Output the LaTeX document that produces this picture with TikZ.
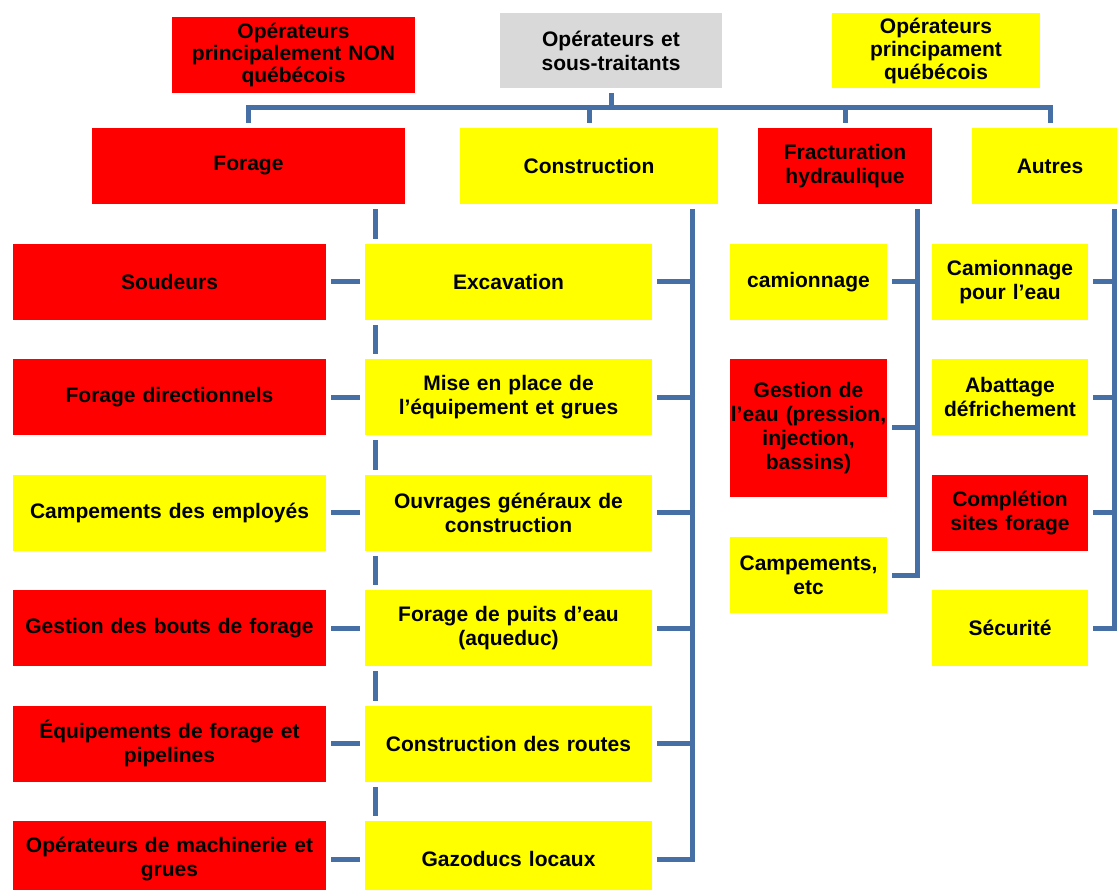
\documentclass[tikz,border=0pt]{standalone}
\usepackage{fontspec}
\setmainfont{Liberation Sans}
\usepackage{xcolor}
\usetikzlibrary{positioning}
\usetikzlibrary{calc}
\usetikzlibrary{backgrounds}

\definecolor{linkblue}{RGB}{70,111,165}
\definecolor{cellred}{RGB}{255,0,0}
\definecolor{cellyellow}{RGB}{255,255,0}
\definecolor{cellgray}{RGB}{217,217,217}

\begin{document}
\begin{tikzpicture}[x=1pt,y=-1pt,
                    base node/.style={rectangle,inner sep=0pt,outer sep=0pt,align=center,
                      font=\fontsize{21}{24}\selectfont\bfseries,preaction={draw=white,line width=10pt}},
                    red node/.style={base node,fill=cellred},
                    yellow node/.style={base node,fill=cellyellow},
                    gray node/.style={base node,fill=cellgray},
                    box size/.style 2 args={minimum width=#1,text width=#1,minimum height=#2},
                    link/.style={draw=linkblue,line width=5pt}]
\useasboundingbox (0,0) rectangle (1117,890);

\node[red node,box size={243pt}{76pt},font=\fontsize{21}{22}\selectfont\bfseries] (nonqc) at (293.5,55) {Opérateurs\\principalement NON\\québécois};
\node[gray node,box size={222pt}{75pt}] (ops) at (611,50.5) {Opérateurs et\\sous-traitants};
\node[yellow node,box size={208pt}{75pt},font=\fontsize{21}{23}\selectfont\bfseries] (qc) at (936,50.5) {Opérateurs\\principament\\québécois};

\node[red node,box size={313pt}{76pt}] (forage) at (248.5,166) {Forage};
\node[yellow node,box size={258pt}{76pt}] (constr) [right=55pt of forage] {Construction};
\node[red node,box size={174pt}{76pt}] (frac) [right=40pt of constr] {Fracturation\\hydraulique};
\node[yellow node,box size={156pt}{76pt}] (autres) [right=40pt of frac] {Autres};

\node[red node,box size={313pt}{76pt}] (soud) at (169.5,282) {Soudeurs};
\node[red node,box size={313pt}{76pt}] (fdir) [below=39.4pt of soud] {Forage directionnels};
\node[yellow node,box size={313pt}{76pt}] (camp) [below=39.4pt of fdir] {Campements des employés};
\node[red node,box size={313pt}{76pt}] (bouts) [below=39.4pt of camp] {Gestion des bouts de forage};
\node[red node,box size={313pt}{76pt}] (equip) [below=39.4pt of bouts] {Équipements de forage et\\pipelines};
\node[red node,box size={313pt}{76pt}] (machi) [below=39.4pt of equip] {Opérateurs de machinerie et\\grues};

\node[yellow node,box size={287pt}{76pt}] (exc) [right=39pt of soud] {Excavation};
\node[yellow node,box size={287pt}{76pt}] (mise) [right=39pt of fdir] {Mise en place de\\l’équipement et grues};
\node[yellow node,box size={287pt}{76pt}] (ouvr) [right=39pt of camp] {Ouvrages généraux de\\construction};
\node[yellow node,box size={287pt}{76pt}] (puits) [right=39pt of bouts] {Forage de puits d’eau\\(aqueduc)};
\node[yellow node,box size={287pt}{76pt}] (routes) [right=39pt of equip] {Construction des routes};
\node[yellow node,box size={287pt}{76pt}] (gazo) [right=39pt of machi] {Gazoducs locaux};

\node[yellow node,box size={157pt}{76pt}] (camion) at (808.5,282) {camionnage};
\node[red node,box size={157pt}{138pt}] (eau) [below=39pt of camion] {Gestion de\\l’eau (pression,\\injection,\\bassins)};
\node[yellow node,box size={157pt}{76pt}] (campetc) [below=40pt of eau] {Campements,\\etc};

\node[yellow node,box size={156pt}{76pt}] (camo) [right=45pt of camion] {Camionnage\\pour l’eau};
\node[yellow node,box size={156pt}{76pt}] (abat) [below=39.4pt of camo] {Abattage\\défrichement};
\node[red node,box size={156pt}{76pt}] (compl) [below=39.4pt of abat] {Complétion\\sites forage};
\node[yellow node,box size={156pt}{76pt}] (secu) [below=39.4pt of compl] {Sécurité};

\coordinate (bus) at ($(ops.south)+(0,-20pt)$);
\coordinate (fv) at ($(forage.south east)+(-30pt,0)$);
\coordinate (cv) at ($(constr.south east)+(-26pt,0)$);
\coordinate (frv) at ($(frac.south east)+(-15pt,0)$);
\coordinate (auv) at ($(autres.south east)+(-14pt,0)$);

\begin{scope}[on background layer]
\draw[link] (ops.south) -- (bus);
\draw[link] (bus) -| (forage.north);
\draw[link] (bus) -| (constr.north);
\draw[link] (bus) -| (frac.north);
\draw[link] (bus) -| (autres.north);

\foreach \n in {soud,fdir,camp,bouts,equip,machi}
  \draw[link] (fv) |- (\n.east);
\foreach \n in {exc,mise,ouvr,puits,routes,gazo}
  \draw[link] (cv) |- (\n.east);
\foreach \n in {camion,eau,campetc}
  \draw[link] (frv) |- (\n.east);
\foreach \n in {camo,abat,compl,secu}
  \draw[link] (auv) |- (\n.east);
\end{scope}
\end{tikzpicture}
\end{document}
